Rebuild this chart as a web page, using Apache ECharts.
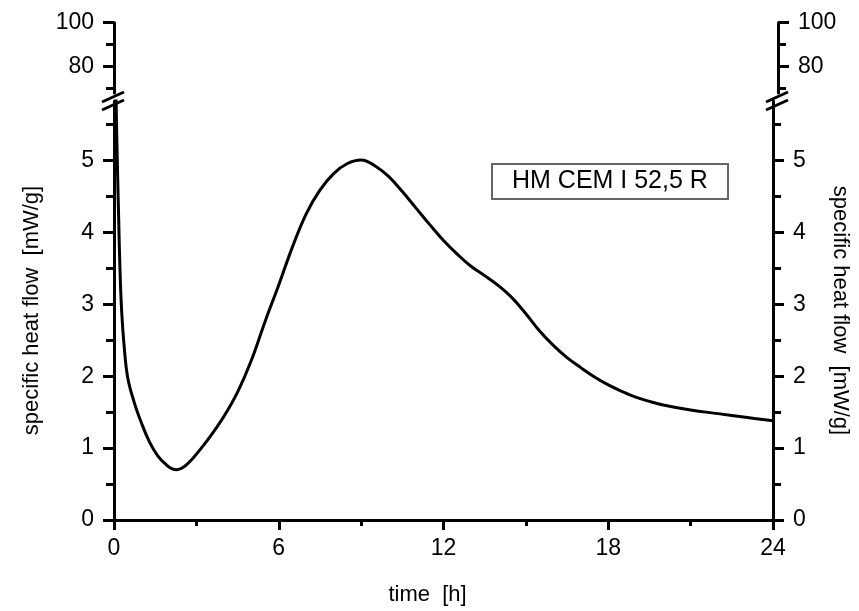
<!DOCTYPE html>
<html>
<head>
<meta charset="utf-8">
<script src="https://cdn.jsdelivr.net/npm/echarts@6/dist/echarts.min.js"></script>
<style>html,body{margin:0;padding:0;background:#fff;}#c{width:859px;height:611px;}</style>
</head>
<body>
<div id="c"></div>
<script>
// ---- data ----
const times = [0.02, 0.07, 0.12, 0.17, 0.22, 0.28, 0.37, 0.5, 0.75, 1.0, 1.3, 1.6, 1.9, 2.1, 2.3, 2.55, 2.85, 3.2, 3.5, 4.0, 4.5, 5.0, 5.5, 6.0, 6.5, 7.0, 7.5, 8.0, 8.5, 9.0, 9.5, 10.0, 10.5, 11.0, 11.5, 12.0, 12.5, 13.0, 13.5, 14.0, 14.5, 15.0, 15.5, 16.0, 16.5, 17.0, 17.5, 18.0, 18.5, 19.0, 19.5, 20.0, 21.0, 22.0, 23.0, 24.0];
const heatFlow = [8.0, 6.0, 5.0, 4.2, 3.45, 2.9, 2.42, 1.98, 1.62, 1.35, 1.08, 0.89, 0.77, 0.715, 0.70, 0.74, 0.85, 1.01, 1.16, 1.44, 1.78, 2.22, 2.76, 3.27, 3.80, 4.26, 4.59, 4.82, 4.96, 5.01, 4.93, 4.78, 4.57, 4.34, 4.11, 3.89, 3.70, 3.53, 3.40, 3.26, 3.09, 2.87, 2.63, 2.43, 2.26, 2.12, 1.99, 1.88, 1.79, 1.71, 1.65, 1.60, 1.53, 1.48, 1.43, 1.38];
const xTicks = [0, 6, 12, 18, 24];
const lowerMajor = [0, 1, 2, 3, 4, 5];
const lowerMinor = [0.5, 1.5, 2.5, 3.5, 4.5, 5.5];
const upperMajor = [80, 100];
const upperMinor = [70, 90];
const sampleLabel = 'HM CEM I 52,5 R';
const yName = 'specific heat flow  [mW/g]';
const xName = 'time  [h]';

// ---- layout ----
const W = 859, H = 611;
const L = 114, R = 778;
const lowerTop = 101, lowerBottom = 523.5;
const upperTop = 22.7, upperBottom = 93;
const FONT = "'Liberation Sans', Arial, Helvetica, sans-serif";
const black = '#000';

function yAx(grid, pos, min, max, ticks, isMajor, extra) {
  return Object.assign({
    type: 'value', gridIndex: grid, position: pos, min: min, max: max,
    axisLine: { show: isMajor, onZero: false, lineStyle: { color: black, width: 3 } },
    axisTick: { show: true, customValues: ticks, length: isMajor ? 11 : 8, lineStyle: { color: black, width: 3 } },
    axisLabel: { show: isMajor, customValues: ticks, color: black, fontSize: 23, fontFamily: FONT, margin: 20 },
    splitLine: { show: false }
  }, extra || {});
}

const chart = echarts.init(document.getElementById('c'), null, { renderer: 'canvas' });
const lowerMax = 5.83, upperMin = 67.9;

const slash = (x, y) => ({
  type: 'line', z: 100,
  shape: { x1: x - 11, y1: y + 5, x2: x + 11, y2: y - 5 },
  style: { stroke: black, lineWidth: 3 }
});

chart.setOption({
  animation: false,
  backgroundColor: '#fff',
  title: {
    text: sampleLabel, left: 492, top: 164,
    padding: [5, 20, 5, 20],
    borderColor: '#666', borderWidth: 2,
    textStyle: { color: black, fontSize: 25, fontWeight: 'normal', fontFamily: FONT }
  },
  grid: [
    { left: L, right: W - R, top: lowerTop, bottom: H - lowerBottom },
    { left: L, right: W - R, top: upperTop, bottom: H - upperBottom }
  ],
  xAxis: [
    {
      type: 'value', gridIndex: 0, min: 0, max: 24, interval: 6,
      axisLine: { onZero: false, lineStyle: { color: black, width: 3 } },
      axisTick: { length: 10, lineStyle: { color: black, width: 3 } },
      minorTick: { show: true, splitNumber: 2, length: 6, lineStyle: { color: black, width: 3 } },
      axisLabel: { color: black, fontSize: 23, fontFamily: FONT, margin: 17 },
      splitLine: { show: false },
      name: xName, nameLocation: 'middle', nameGap: 64,
      nameTextStyle: { color: black, fontSize: 22, fontFamily: FONT, padding: [0, 32, 0, 0] }
    },
    { type: 'value', gridIndex: 1, min: 0, max: 24, show: false }
  ],
  yAxis: [
    yAx(0, 'left', 0, lowerMax, lowerMajor, true, {
      name: yName, nameLocation: 'middle', nameGap: 71,
      nameTextStyle: { color: black, fontSize: 22, fontFamily: FONT }
    }),
    yAx(0, 'left', 0, lowerMax, lowerMinor, false),
    yAx(0, 'right', 0, lowerMax, lowerMajor, true, {
      name: yName, nameLocation: 'middle', nameGap: 56, nameRotate: -90,
      nameTextStyle: { color: black, fontSize: 22, fontFamily: FONT }
    }),
    yAx(0, 'right', 0, lowerMax, lowerMinor, false),
    yAx(1, 'left', upperMin, 100, upperMajor, true),
    yAx(1, 'left', upperMin, 100, upperMinor, false),
    yAx(1, 'right', upperMin, 100, upperMajor, true),
    yAx(1, 'right', upperMin, 100, upperMinor, false)
  ],
  series: [{
    type: 'line', xAxisIndex: 0, yAxisIndex: 0,
    data: times.map((t, i) => [t, heatFlow[i]]),
    smooth: 0.4, showSymbol: false, clip: true,
    lineStyle: { color: black, width: 3 }
  }],
  graphic: [
    slash(L - 1, 97), slash(L - 1, 105),
    slash(R - 1, 97), slash(R - 1, 105)
  ]
});
</script>
</body>
</html>
